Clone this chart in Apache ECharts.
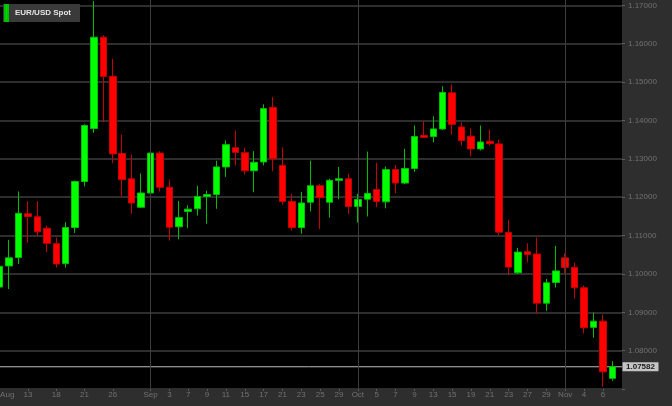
<!DOCTYPE html>
<html>
<head>
<meta charset="utf-8">
<script src="https://cdn.jsdelivr.net/npm/echarts@6/dist/echarts.min.js"></script>
<style>
html,body{margin:0;padding:0;background:#000;overflow:hidden;width:672px;height:406px;position:relative;}
#c{position:absolute;left:-5px;top:-33px;width:677px;height:439px;}
</style>
</head>
<body>
<div id="c"></div>
<script>
// ---- data (EUR/USD daily, 2015) ----
const dates = ['2015-08-10','2015-08-11','2015-08-12','2015-08-13','2015-08-14',
'2015-08-17','2015-08-18','2015-08-19','2015-08-20','2015-08-21',
'2015-08-24','2015-08-25','2015-08-26','2015-08-27','2015-08-28',
'2015-08-31','2015-09-01','2015-09-02','2015-09-03','2015-09-04',
'2015-09-07','2015-09-08','2015-09-09','2015-09-10','2015-09-11',
'2015-09-14','2015-09-15','2015-09-16','2015-09-17','2015-09-18',
'2015-09-21','2015-09-22','2015-09-23','2015-09-24','2015-09-25',
'2015-09-28','2015-09-29','2015-09-30','2015-10-01','2015-10-02',
'2015-10-05','2015-10-06','2015-10-07','2015-10-08','2015-10-09',
'2015-10-12','2015-10-13','2015-10-14','2015-10-15','2015-10-16',
'2015-10-19','2015-10-20','2015-10-21','2015-10-22','2015-10-23',
'2015-10-26','2015-10-27','2015-10-28','2015-10-29','2015-10-30',
'2015-11-02','2015-11-03','2015-11-04','2015-11-05','2015-11-06',
'2015-11-09'];
const openV = [1.0966,1.1021,1.1043,1.1157,1.1149,
1.1119,1.1079,1.1027,1.1121,1.1241,
1.1379,1.1617,1.1515,1.1314,1.1248,
1.1174,1.1211,1.1315,1.1226,1.1123,
1.1163,1.1170,1.1202,1.1207,1.1279,
1.1329,1.1316,1.1269,1.1292,1.1434,
1.1283,1.1189,1.1121,1.1187,1.1230,
1.1187,1.1244,1.1248,1.1176,1.1195,
1.1220,1.1188,1.1272,1.1237,1.1275,
1.1361,1.1358,1.1378,1.1472,1.1383,
1.1359,1.1326,1.1346,1.1339,1.1108,
1.1003,1.1058,1.1052,1.0924,1.0978,
1.1042,1.1017,1.0964,1.0861,1.0877,
1.0728];
const closeV = [1.1020,1.1042,1.1158,1.1150,1.1110,
1.1080,1.1026,1.1121,1.1241,1.1387,
1.1617,1.1515,1.1313,1.1246,1.1185,
1.1211,1.1315,1.1226,1.1122,1.1147,
1.1169,1.1202,1.1207,1.1279,1.1337,
1.1317,1.1269,1.1291,1.1431,1.1300,
1.1189,1.1121,1.1185,1.1230,1.1199,
1.1244,1.1248,1.1176,1.1194,1.1210,
1.1189,1.1272,1.1237,1.1275,1.1358,
1.1356,1.1378,1.1473,1.1390,1.1348,
1.1326,1.1344,1.1340,1.1109,1.1018,
1.1057,1.1051,1.0924,1.0977,1.1008,
1.1017,1.0964,1.0860,1.0877,1.0745,
1.07582];
const lowV = [1.0926,1.0961,1.1026,1.1081,1.1098,
1.1057,1.1017,1.1017,1.1107,1.1228,
1.1368,1.1396,1.1289,1.1202,1.1157,
1.1172,1.1209,1.1215,1.1087,1.1091,
1.1120,1.1152,1.1131,1.1170,1.1253,
1.1283,1.1259,1.1213,1.1283,1.1268,
1.1181,1.1113,1.1105,1.1163,1.1117,
1.1147,1.1195,1.1156,1.1134,1.1150,
1.1174,1.1171,1.1211,1.1234,1.1266,
1.1355,1.1343,1.1375,1.1363,1.1335,
1.1306,1.1322,1.1335,1.1101,1.0997,
1.1000,1.1030,1.0897,1.0904,1.0965,
1.1002,1.0936,1.0845,1.0834,1.0706,
1.0722];
const highV = [1.1042,1.1089,1.1215,1.1190,1.1190,
1.1126,1.1095,1.1135,1.1243,1.1390,
1.1711,1.1622,1.1561,1.1363,1.1311,
1.1262,1.1333,1.1320,1.1246,1.1190,
1.1179,1.1230,1.1217,1.1295,1.1348,
1.1374,1.1329,1.1320,1.1442,1.1461,
1.1330,1.1209,1.1214,1.1295,1.1235,
1.1248,1.1279,1.1261,1.1209,1.1319,
1.1290,1.1280,1.1284,1.1326,1.1387,
1.1398,1.1411,1.1489,1.1494,1.1395,
1.1379,1.1387,1.1376,1.1350,1.1141,
1.1068,1.1080,1.1095,1.0987,1.1073,
1.1054,1.1030,1.0970,1.0899,1.0894,
1.0773];
const tickIdx  = [0,3,6,9,12,16,18,20,22,24,26,28,30,32,34,36,38,40,42,44,46,48,50,52,54,56,58,60,62,64];
const tickText = ['Aug','13','18','21','26','Sep','3','7','9','11','15','17','21','23','25','29','Oct','5','7','9','13','15','19','21','23','27','29','Nov','4','6'];
const monthStartIdx = [16,38,60];
const seriesName = 'EUR/USD Spot';
const lastPrice = 1.07582;
const yMin = 1.07, yMax = 1.18, yStep = 0.01;

// ---- build ----
const candles = dates.map((d,i)=>[openV[i], closeV[i], lowV[i], highV[i]]);
const labelMap = {};
tickIdx.forEach((k,j)=>{ labelMap[k] = tickText[j]; });

// canvas is offset from the page by (OX, OY) so the plot can bleed past the window edge
const OX = 5, OY = 33, CW = 677, CH = 439;
const FONT = 'Liberation Sans';
const chart = echarts.init(document.getElementById('c'), null, {renderer:'canvas'});
const gridBottom = 16.9;

chart.setOption({
  animation: false,
  backgroundColor: '#000000',
  textStyle: {fontFamily: FONT},
  legend: {
    left: 3 + OX, top: 4 + OY,
    padding: [0, 9, 0, 1],
    itemWidth: 3, itemHeight: 16,
    icon: 'rect',
    backgroundColor: '#3a3a3a',
    selectedMode: false,
    textStyle: {color: '#e4e4e4', fontSize: 8, fontWeight: 'bold', fontFamily: FONT, padding: [0,0,0,2]},
    data: [{name: seriesName, itemStyle: {color: '#00dd00'}}]
  },
  grid: [
    {left: 0, right: CW - 66 * 9.425, top: 0, bottom: gridBottom},
    {left: OX, right: 50, top: 0, bottom: gridBottom}
  ],
  xAxis: [
    {
      type: 'category', gridIndex: 0, data: dates, boundaryGap: true, z: 10,
      axisLine: {show: false},
      axisTick: {show: true, alignWithLabel: true, length: 2,
        interval: (i)=> labelMap[i] !== undefined,
        lineStyle: {color: '#5e5e5e'}},
      axisLabel: {
        interval: 0, margin: 2, color: '#717171', fontSize: 8, fontFamily: FONT,
        formatter: (v, i)=> labelMap[i] === undefined ? '' : (i === 0 ? '{first|' + labelMap[i] + '}' : labelMap[i]),
        rich: {first: {padding: [0,0,0,15], color: '#717171', fontSize: 8, fontFamily: FONT}}
      },
      splitLine: {show: false}
    },
    {type: 'value', gridIndex: 1, show: false, min: 0, max: 1}
  ],
  yAxis: [
    {type: 'value', gridIndex: 0, min: yMin, max: yMax, show: false},
    {type: 'value', gridIndex: 1, min: yMin, max: yMax, interval: yStep, position: 'left', z: 0,
      axisLine: {show: false}, axisTick: {show: false}, axisLabel: {show: false},
      splitLine: {show: true, lineStyle: {color: '#2e2e2e', width: 2}}},
    {type: 'value', gridIndex: 1, min: yMin, max: yMax, interval: yStep, position: 'right', z: 10,
      axisLine: {show: false},
      axisTick: {show: true, inside: false, length: 3, lineStyle: {color: '#5e5e5e'}},
      axisLabel: {margin: 6, color: '#717171', fontSize: 8, fontFamily: FONT,
        formatter: (v)=> (v > 1.075 && v < 1.175) ? v.toFixed(5) : ''},
      splitLine: {show: false}}
  ],
  series: [{
    name: seriesName,
    type: 'candlestick', xAxisIndex: 0, yAxisIndex: 0,
    data: candles,
    barWidth: 7,
    itemStyle: {color: '#00ff00', color0: '#ff0000', borderColor: '#00c000', borderColor0: '#c80000', borderWidth: 1},
    markLine: {
      silent: true, symbol: ['none','none'], animation: false,
      label: {show: false},
      lineStyle: {color: '#3e3e3e', width: 1, type: 'solid'},
      emphasis: {disabled: true},
      data: monthStartIdx.map(i => ({xAxis: dates[i]}))
    }
  }]
});

// panels + last price tag
const py = chart.convertToPixel({yAxisIndex: 2}, lastPrice);
const panelX = CW - 50;           // right edge of plot frame
const bandY = 388 + OY;           // top of bottom axis band
chart.setOption({
  graphic: [
    {type: 'rect', z: 5, silent: true, shape: {x: panelX, y: 0, width: 50, height: CH}, style: {fill: '#2e2e2e'}},
    {type: 'rect', z: 5, silent: true, shape: {x: 0, y: bandY, width: panelX, height: CH - bandY}, style: {fill: '#2e2e2e'}},
    {type: 'line', z: 1, silent: true, shape: {x1: 0, y1: py, x2: panelX, y2: py}, style: {stroke: '#bdbdbd', lineWidth: 1}},
    {type: 'rect', z: 12, silent: true, shape: {x: panelX + 0.5, y: py - 4.5, width: 36, height: 9}, style: {fill: '#c4c4c4'}},
    {type: 'text', z: 13, silent: true, x: panelX + 18.5, y: py,
      style: {text: lastPrice.toFixed(5), fill: '#1b1b1b', font: 'bold 8px "Liberation Sans"', align: 'center', verticalAlign: 'middle'}}
  ]
});
</script>
</body>
</html>
